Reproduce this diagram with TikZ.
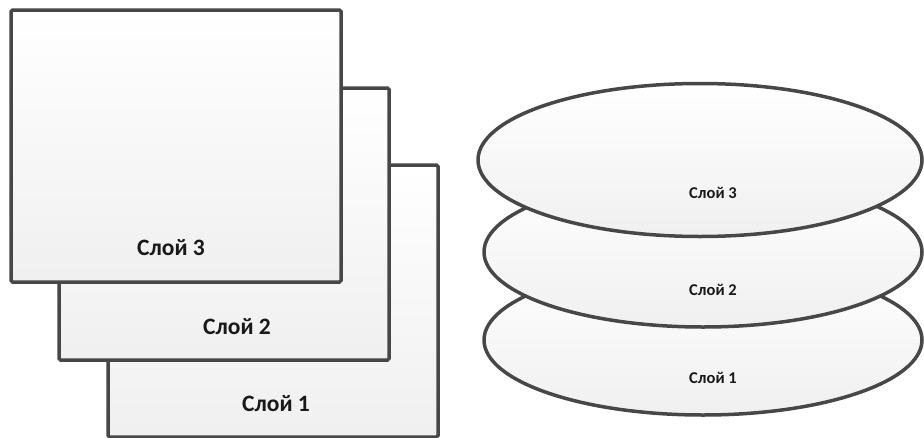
\documentclass[tikz,border=0pt]{standalone}
\usepackage{fontspec}
\setmainfont{Carlito}
\usetikzlibrary{shapes.geometric}
\begin{document}
\begin{tikzpicture}[x=1pt,y=-1pt,
  sheet/.style={draw=black!72, line width=3.5pt, rounded corners=1.5pt, top color=white, bottom color=black!6, minimum width=330pt, minimum height=272pt, inner sep=0pt},
  disc/.style={ellipse, draw=black!72, line width=3.5pt, top color=white, bottom color=black!6, inner sep=0pt},
  bigtxt/.style={font=\bfseries\fontsize{23.5}{26}\selectfont, text=black!90},
  smalltxt/.style={font=\bfseries\fontsize{16.5}{19}\selectfont, text=black!90}]
\useasboundingbox (0,0) rectangle (924,437);
\node[sheet] (r1) at (273,301) {};
\node[sheet] (r2) at (224,224) {};
\node[sheet] (r3) at (176,146) {};
\node[bigtxt] (t3) at (171,248) {Слой 3};
\node[bigtxt] (t2) at (237,327) {Слой 2};
\node[bigtxt] (t1) at (276,404) {Слой 1};
\node[disc, minimum width=438pt, minimum height=150pt] (e1) at (703,340) {};
\node[disc, minimum width=438pt, minimum height=150pt] (e2) at (703,252) {};
\node[disc, minimum width=444pt, minimum height=153pt] (e3) at (700,160) {};
\node[smalltxt] (s3) at (713,193) {Слой 3};
\node[smalltxt] (s2) at (713,290) {Слой 2};
\node[smalltxt] (s1) at (713,378) {Слой 1};
\end{tikzpicture}
\end{document}
